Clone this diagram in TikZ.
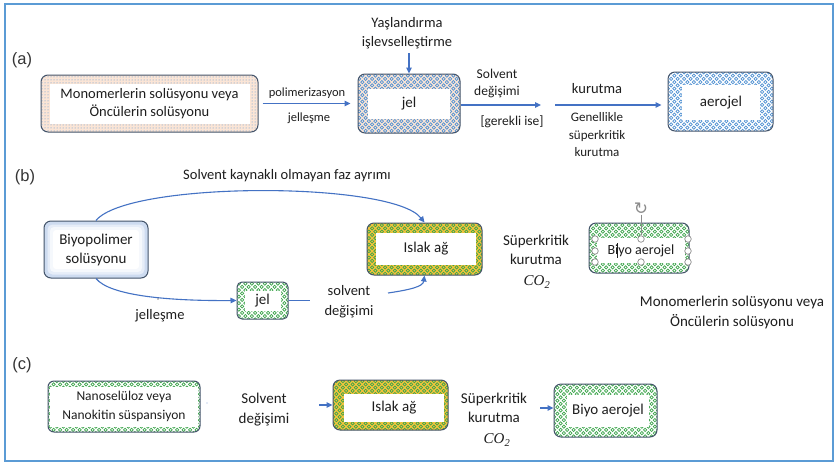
\documentclass[tikz,border=0pt]{standalone}
\usepackage{fontspec}
\setmainfont{Carlito}
\newfontfamily\labfont{Liberation Sans}
\newfontfamily\serfont{Liberation Serif}
\newfontfamily\symfont{DejaVu Sans}
\usetikzlibrary{arrows.meta,patterns,patterns.meta}

\definecolor{framec}{RGB}{91,155,213}
\definecolor{bordc}{RGB}{68,84,106}
\definecolor{arrc}{RGB}{68,114,196}
\definecolor{txt}{RGB}{30,30,30}
\definecolor{beige}{RGB}{251,229,214}
\definecolor{ringblue}{RGB}{80,145,210}
\definecolor{ringgreen}{RGB}{60,165,75}
\definecolor{islakbg}{RGB}{245,195,60}
\definecolor{biobg}{RGB}{205,219,240}
\definecolor{handle}{RGB}{140,140,140}

\newcommand\myfs[2]{\fontsize{#1}{#2}\selectfont}

\tikzdeclarepattern{
  name=rings,
  type=uncolored,
  bounding box={(-1pt,-1pt) and (7.5pt,7.5pt)},
  tile size={(6.5pt,6.5pt)},
  code={
    \pgfsetlinewidth{0.8pt}
    \pgfpathcircle{\pgfpoint{1.625pt}{1.625pt}}{1.6pt}
    \pgfpathcircle{\pgfpoint{4.875pt}{4.875pt}}{1.6pt}
    \pgfusepath{stroke}
  }
}

\tikzset{
  bx/.style={draw=bordc, line width=1pt, rounded corners=7pt, inner sep=0pt},
  inbox/.style={fill=white, inner sep=0pt, align=center, text=txt},
  arr/.style={draw=arrc, line width=1.1pt, -{Triangle[length=6pt,width=5.5pt]}},
  ln/.style={draw=arrc, line width=1.1pt},
  lbl/.style={text=txt, align=center, inner sep=0pt},
  plab/.style={text=txt!90, inner sep=0pt, font=\labfont\myfs{16.5}{18}},
  hnd/.style={circle, draw=handle, fill=white, line width=0.7pt, inner sep=0pt, minimum size=6.5pt},
}

\begin{document}
\begin{tikzpicture}[x=1pt,y=-1pt]
\useasboundingbox (0,0) rectangle (835,464);
\fill[white] (0,0) rectangle (835,464);
\draw[framec, line width=2pt] (5,4) rectangle (833,461);

% ---------------- (a) ----------------
\node[plab] (la) at (22,60) {(a)};

\node[bx, preaction={fill=beige}, pattern=dots, pattern color=ringblue,
      minimum width=217pt, minimum height=57pt] (mono) at (149.5,103.5) {};
\node[inbox, minimum width=200pt, minimum height=40pt, font=\myfs{14.5}{18}] (monot) at (149.5,104)
  {Monomerlerin solüsyonu veya\\Öncülerin solüsyonu};

\node[bx, preaction={fill=beige}, pattern=rings, pattern color=ringblue,
      minimum width=102pt, minimum height=59pt] (jela) at (409,103.5) {};
\node[inbox, minimum width=82pt, minimum height=30pt, font=\myfs{15}{18}] (jelat) at (jela) {jel};

\node[bx, fill=white, pattern=rings, pattern color=ringblue,
      minimum width=105pt, minimum height=59pt] (aero) at (720.5,101.5) {};
\node[inbox, minimum width=78pt, minimum height=35pt, font=\myfs{15}{18}] (aerot) at (721,102.5) {aerojel};

\node[lbl, font=\myfs{14.5}{19}] (yas) at (407,33) {Yaşlandırma\\işlevselleştirme};
\draw[arr] (jela.north |- 0,53) -- (jela.north);

\draw[arr, shorten <=4pt, shorten >=7pt] (mono.east) -- (jela.west);
\node[lbl, font=\myfs{12.5}{15}] (poli) at (307,93) {polimerizasyon};
\node[lbl, font=\myfs{12.5}{15}] (jell) at (309,118) {jelleşme};

\coordinate (sa) at (541,105);
\draw[arr] (jela.east |- sa) -- (sa);
\node[lbl, font=\myfs{13.5}{17}] (solva) at (497,83) {Solvent\\değişimi};
\node[lbl, font=\myfs{13.5}{17}] (gerek) at (512,122) {[gerekli ise]};

\coordinate (ka) at (555,105);
\draw[arr, shorten >=6pt] (ka) -- (aero.west |- ka);
\node[lbl, font=\myfs{14.5}{18}] (kur) at (597,89) {kurutma};
\node[lbl, font=\myfs{13}{17.5}] (genel) at (597,135) {Genellikle\\süperkritik\\kurutma};

% ---------------- (b) ----------------
\node[plab] (lb) at (25,177) {(b)};
\node[lbl, font=\myfs{14.5}{18}] (faz) at (287,176) {Solvent kaynaklı olmayan faz ayrımı};

\node[bx, fill=biobg, minimum width=104pt, minimum height=57pt] (bio) at (96,249.5) {};
\node[fill=white!50!biobg, rounded corners=5pt, minimum width=97pt, minimum height=50pt, inner sep=0pt] at (bio) {};
\node[fill=white!80!biobg, rounded corners=4pt, minimum width=92pt, minimum height=45pt, inner sep=0pt] at (bio) {};
\node[inbox, fill=white, rounded corners=3pt, minimum width=86pt, minimum height=39pt, font=\myfs{15}{19}] (biot) at (bio)
  {Biyopolimer\\solüsyonu};

\node[bx, preaction={fill=islakbg}, pattern=rings, pattern color=ringgreen,
      minimum width=115pt, minimum height=52pt] (islak) at (424.5,249) {};
\node[inbox, minimum width=100pt, minimum height=32pt, font=\myfs{15}{18}] (islakt) at (426,249) {Islak ağ};

\node[bx, fill=white, pattern=rings, pattern color=ringgreen, rounded corners=5pt,
      minimum width=51pt, minimum height=37pt] (jelb) at (262.5,300.5) {};
\node[inbox, minimum width=36pt, minimum height=20pt, font=\myfs{15}{18}] (jelbt) at (jelb) {jel};

\node[bx, fill=white, pattern=rings, pattern color=ringgreen,
      minimum width=100pt, minimum height=50pt] (bioa) at (639,248) {};
\node[inbox, minimum width=88pt, minimum height=25pt, font=\myfs{14}{17}] (bioat) at (641,250.5) {Biyo aerojel};

% selection handles
\node[text=handle, inner sep=0pt, font=\symfont\myfs{17}{18}] (rot) at (641,209) {↻};
\node[hnd] (h1) at (595,239) {};
\node[hnd] (h2) at (641,239) {};
\node[hnd] (h3) at (688,239) {};
\node[hnd] (h4) at (595,251) {};
\node[hnd] (h5) at (688,251) {};
\node[hnd] (h6) at (595,262) {};
\node[hnd] (h7) at (641,262) {};
\node[hnd] (h8) at (688,262) {};
\draw[handle, line width=0.7pt] (rot.south) -- (h2.north);
\draw[txt, line width=0.8pt] (617,243) -- (617,258);

\draw[arr] (bio.north) .. controls (128,181) and (392,181) .. (islak.north);
\draw[arr] (bio.south) .. controls (110,296) and (170,301) .. (jelb.west);
\node[lbl, font=\myfs{14.5}{18}] (jellb) at (160,316) {jelleşme};
\fill[txt] (158,299) circle (0.6pt);

\coordinate (sb1) at (310,300.5);
\draw[ln] (jelb.east) -- (sb1);
\node[lbl, font=\myfs{14.5}{20}] (solvb) at (349,302) {solvent\\değişimi};
\coordinate (sb2) at (388,293);
\draw[arr] (sb2) .. controls (408,290) and (423,287) .. (islak.south);

\node[lbl, font=\myfs{15}{19}] (superb) at (536,249.5) {Süperkritik\\kurutma};
\node[lbl, font=\serfont\itshape\myfs{15}{18}] (co2b) at (537,282) {CO\textsubscript{2}};

\node[lbl, font=\myfs{15}{19.5}] (monob) at (732,312.5) {Monomerlerin solüsyonu veya\\Öncülerin solüsyonu};

% ---------------- (c) ----------------
\node[plab] (lc) at (22,365) {(c)};

\node[bx, fill=white, pattern=rings, pattern color=ringgreen, rounded corners=6pt,
      minimum width=152pt, minimum height=51pt] (nano) at (124,406.5) {};
\node[inbox, minimum width=148pt, minimum height=40pt, font=\myfs{13.5}{18.5}] (nanot) at (nano)
  {Nanoselüloz veya\\Nanokitin süspansiyon};
\fill[arrc!60] (207,403) circle (0.6pt);

\node[lbl, font=\myfs{15}{19.5}] (solvc) at (264,409.5) {Solvent\\değişimi};

\node[bx, preaction={fill=islakbg}, pattern=rings, pattern color=ringgreen,
      minimum width=115pt, minimum height=50pt] (islakc) at (390.5,405) {};
\node[inbox, minimum width=100pt, minimum height=28pt, font=\myfs{15}{18}] (islakct) at (394,408) {Islak ağ};

\coordinate (sc) at (319,405);
\draw[arr] (sc) -- (islakc.west);

\node[lbl, font=\myfs{15}{19.5}] (superc) at (494,408) {Süperkritik\\kurutma};
\node[lbl, font=\serfont\itshape\myfs{15}{18}] (co2c) at (497,440) {CO\textsubscript{2}};

\node[bx, fill=white, pattern=rings, pattern color=ringgreen,
      minimum width=103pt, minimum height=53pt] (bioc) at (605.5,410.5) {};
\node[inbox, minimum width=82pt, minimum height=32pt, font=\myfs{15}{18}] (bioct) at (608,411) {Biyo aerojel};

\coordinate (kc) at (540,408);
\draw[arr] (kc) -- (bioc.west |- kc);

\end{tikzpicture}
\end{document}
